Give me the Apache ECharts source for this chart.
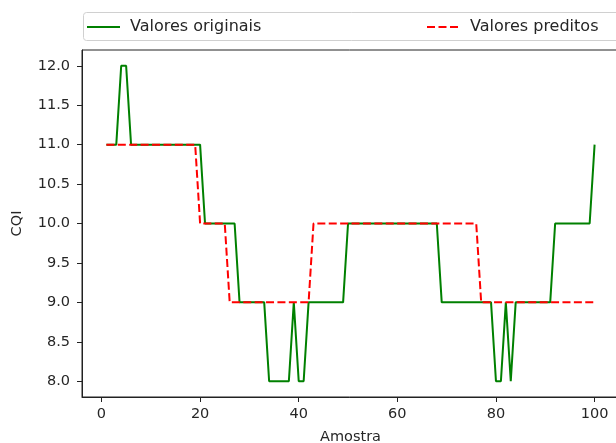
<!DOCTYPE html>
<html>
<head>
<meta charset="utf-8">
<script src="https://cdn.jsdelivr.net/npm/echarts@6/dist/echarts.min.js"></script>
<style>
  html, body { margin: 0; padding: 0; background: #fff; }
  #chart { width: 616px; height: 443px; }
</style>
</head>
<body>
<div id="chart"></div>
<script>
  // dados (amostras 1..100)
  const originais = [
    11, 11, 11, 12, 12, 11, 11, 11, 11, 11,
    11, 11, 11, 11, 11, 11, 11, 11, 11, 11,
    10, 10, 10, 10, 10, 10, 10, 9, 9, 9,
    9, 9, 9, 8, 8, 8, 8, 8, 9, 8,
    8, 9, 9, 9, 9, 9, 9, 9, 9, 10,
    10, 10, 10, 10, 10, 10, 10, 10, 10, 10,
    10, 10, 10, 10, 10, 10, 10, 10, 9, 9,
    9, 9, 9, 9, 9, 9, 9, 9, 9, 8,
    8, 9, 8, 9, 9, 9, 9, 9, 9, 9,
    9, 10, 10, 10, 10, 10, 10, 10, 10, 11
  ];
  const preditos = [
    11, 11, 11, 11, 11, 11, 11, 11, 11, 11,
    11, 11, 11, 11, 11, 11, 11, 11, 11, 10,
    10, 10, 10, 10, 10, 9, 9, 9, 9, 9,
    9, 9, 9, 9, 9, 9, 9, 9, 9, 9,
    9, 9, 10, 10, 10, 10, 10, 10, 10, 10,
    10, 10, 10, 10, 10, 10, 10, 10, 10, 10,
    10, 10, 10, 10, 10, 10, 10, 10, 10, 10,
    10, 10, 10, 10, 10, 10, 9, 9, 9, 9,
    9, 9, 9, 9, 9, 9, 9, 9, 9, 9,
    9, 9, 9, 9, 9, 9, 9, 9, 9, 9
  ];
  const xTicks = [0, 20, 40, 60, 80, 100];
  const yTicks = [8.0, 8.5, 9.0, 9.5, 10.0, 10.5, 11.0, 11.5, 12.0];

  const toPairs = arr => arr.map((v, i) => [i + 1, v]);

  const font = 'DejaVu Sans';
  const txt = '#262626';

  // ícones da legenda: linha contínua e linha tracejada
  const iconSolid = 'path://M0,0h33v2h-33z';
  const iconDashed = 'path://M0,0h8v2h-8z M11.5,0h8v2h-8z M23,0h8v2h-8z';

  const myChart = echarts.init(document.getElementById('chart'));
  const option = {
    animation: false,
    textStyle: { fontFamily: font },
    grid: {
      left: 82, top: 50, right: -3, bottom: 46,
      outerBoundsMode: 'none', containLabel: false,
      show: true, borderColor: '#222', borderWidth: 1, backgroundColor: 'transparent'
    },
    graphic: [{
      type: 'rect',
      shape: { x: 83.5, y: 12.5, width: 560, height: 28, r: 3 },
      style: { fill: '#fff', stroke: '#d0d0d0', lineWidth: 1 },
      z: 1
    }],
    legend: [
      {
        data: [{ name: 'Valores originais', icon: iconSolid }], left: 82, top: 14,
        itemWidth: 33, itemHeight: 2, z: 5,
        textStyle: { fontFamily: font, fontSize: 16, color: txt, padding: [0, 0, 0, 5] }
      },
      {
        data: [{ name: 'Valores preditos', icon: iconDashed }], left: 422, top: 14,
        itemWidth: 31, itemHeight: 2, z: 5,
        textStyle: { fontFamily: font, fontSize: 16, color: txt, padding: [0, 0, 0, 7] }
      }
    ],
    xAxis: {
      type: 'value', min: -3.95, max: 104.95,
      name: 'Amostra', nameLocation: 'middle', nameGap: 33,
      nameTextStyle: { fontFamily: font, fontSize: 14.5, color: txt },
      axisLine: { show: true, onZero: false, lineStyle: { color: '#222', width: 1 } },
      axisTick: { show: true, length: 5, customValues: xTicks, lineStyle: { color: '#222' } },
      axisLabel: { customValues: xTicks, margin: 10, fontFamily: font, fontSize: 14.5, color: txt },
      splitLine: { show: false }
    },
    yAxis: {
      type: 'value', min: 7.8, max: 12.2,
      name: 'CQI', nameLocation: 'middle', nameGap: 57, nameRotate: 90,
      nameTextStyle: { fontFamily: font, fontSize: 14.5, color: txt },
      axisLine: { show: true, onZero: false, lineStyle: { color: '#222', width: 1 } },
      axisTick: { show: true, length: 5, customValues: yTicks, lineStyle: { color: '#222' } },
      axisLabel: {
        customValues: yTicks, margin: 12, fontFamily: font, fontSize: 14.5, color: txt,
        formatter: v => Number(v).toFixed(1)
      },
      splitLine: { show: false }
    },
    series: [
      {
        name: 'Valores originais', type: 'line', data: toPairs(originais),
        symbol: 'none', color: '#008000',
        lineStyle: { color: '#008000', width: 2 }
      },
      {
        name: 'Valores preditos', type: 'line', data: toPairs(preditos),
        symbol: 'none', color: '#ff0000',
        lineStyle: { color: '#ff0000', width: 2, type: [8, 3.4] }
      }
    ]
  };
  myChart.setOption(option);
</script>
</body>
</html>
